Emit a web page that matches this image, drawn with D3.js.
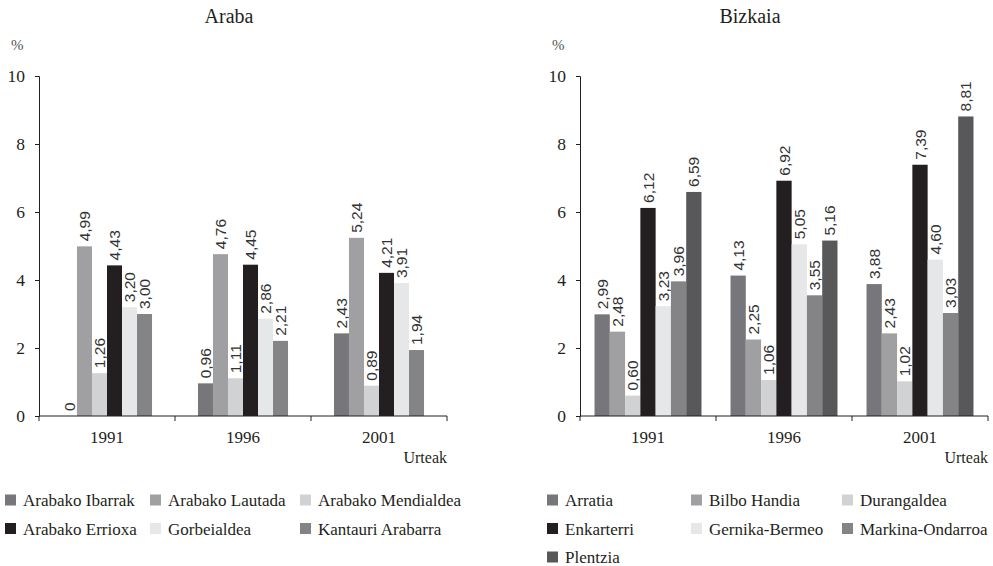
<!DOCTYPE html>
<html>
<head>
<meta charset="utf-8">
<script src="https://cdnjs.cloudflare.com/ajax/libs/d3/7.8.5/d3.min.js"></script>
<style>
  body { margin: 0; background: #fff; }
</style>
</head>
<body>
<svg id="chart" width="993" height="566"></svg>
<script>
const years = ['1991', '1996', '2001'];
const yTicks = [0, 2, 4, 6, 8, 10];

const arabaSeries = ['Arabako Ibarrak', 'Arabako Lautada', 'Arabako Mendialdea', 'Arabako Errioxa', 'Gorbeialdea', 'Kantauri Arabarra'];
const arabaValues = [
    [0, 0.96, 2.43],
    [4.99, 4.76, 5.24],
    [1.26, 1.11, 0.89],
    [4.43, 4.45, 4.21],
    [3.20, 2.86, 3.91],
    [3.00, 2.21, 1.94]
];
const arabaColors = ['#77777b', '#a0a0a3', '#d1d2d4', '#231f20', '#e6e7e8', '#848487'];

const bizkaiaSeries = ['Arratia', 'Bilbo Handia', 'Durangaldea', 'Enkarterri', 'Gernika-Bermeo', 'Markina-Ondarroa', 'Plentzia'];
const bizkaiaValues = [
    [2.99, 4.13, 3.88],
    [2.48, 2.25, 2.43],
    [0.60, 1.06, 1.02],
    [6.12, 6.92, 7.39],
    [3.23, 5.05, 4.60],
    [3.96, 3.55, 3.03],
    [6.59, 5.16, 8.81]
];
const bizkaiaColors = ['#77777b', '#a0a0a3', '#d1d2d4', '#231f20', '#e6e7e8', '#848487', '#58585b'];

const SERIF = '"Liberation Serif", "DejaVu Serif", serif';
const SANS = '"Liberation Sans", "DejaVu Sans", sans-serif';
const INK = '#231f20';

const svg = d3.select('#chart');

function fmt(v) {
    return v === 0 ? '0' : v.toFixed(2).replace('.', ',');
}

function drawChart(opts) {
    const { title, series, values, colors, left, titleX, innerPad, legendX, legendCols } = opts;
    const top = 76, height = 340, width = 408;

    const g = svg.append('g').attr('transform', `translate(${left}, ${top})`);

    const x = d3.scaleBand().domain(years).range([0, width]);
    const xs = d3.scaleBand().domain(series).range([0, x.bandwidth()]).paddingOuter(innerPad);
    const y = d3.scaleLinear().domain([0, 10]).range([height, 0]);

    // title and unit
    svg.append('text')
        .attr('x', titleX).attr('y', 23)
        .attr('text-anchor', 'middle')
        .style('font-family', SERIF)
        .style('font-size', '20px')
        .style('fill', INK)
        .text(title);

    svg.append('text')
        .attr('x', left - 28).attr('y', 50)
        .style('font-family', SERIF)
        .style('font-size', '15px')
        .style('fill', '#555')
        .text('%');

    // bars
    series.forEach((s, si) => {
        const grp = g.append('g');
        years.forEach((yr, yi) => {
            const v = values[si][yi];
            const bx = x(yr) + xs(s);
            grp.append('rect')
                .attr('x', bx)
                .attr('y', y(v))
                .attr('width', xs.bandwidth())
                .attr('height', height - y(v))
                .attr('fill', colors[si]);
            grp.append('text')
                .attr('transform', `translate(${bx + xs.bandwidth() / 2 + 5.5}, ${y(v) - 5}) rotate(-90)`)
                .style('font-family', SANS)
                .style('font-size', '15.5px')
                .style('fill', '#333')
                .text(fmt(v));
        });
    });

    // y axis
    const yAxis = g.append('g')
        .call(d3.axisLeft(y).tickValues(yTicks).tickSize(4).tickPadding(10).tickFormat(d3.format('d')));
    yAxis.select('.domain').attr('stroke', INK);
    yAxis.selectAll('.tick line').attr('stroke', INK);
    yAxis.selectAll('text')
        .style('font-size', '17.5px')
        .style('font-family', SERIF)
        .attr('fill', INK);

    // x axis with ticks at category boundaries
    const xAxisG = g.append('g').attr('transform', `translate(0, ${height})`);
    xAxisG.append('line')
        .attr('x1', 0).attr('x2', width)
        .attr('stroke', INK);
    const bounds = years.map(yr => x(yr)).concat([width]);
    xAxisG.selectAll('.bt')
        .data(bounds)
        .enter().append('line')
        .attr('x1', d => d).attr('x2', d => d)
        .attr('y1', 0).attr('y2', 5)
        .attr('stroke', INK);
    xAxisG.selectAll('.yl')
        .data(years)
        .enter().append('text')
        .attr('x', d => x(d) + x.bandwidth() / 2)
        .attr('y', 27)
        .attr('text-anchor', 'middle')
        .style('font-family', SERIF)
        .style('font-size', '17px')
        .style('fill', INK)
        .text(d => d);
    xAxisG.append('text')
        .attr('x', width).attr('y', 47)
        .attr('text-anchor', 'end')
        .style('font-family', SERIF)
        .style('font-size', '16px')
        .style('fill', INK)
        .text('Urteak');

    // legend
    series.forEach((s, si) => {
        const col = si % 3, row = Math.floor(si / 3);
        const lx = legendX + legendCols[col];
        const ly = 500 + row * 28.5;
        svg.append('rect')
            .attr('x', lx).attr('y', ly - 5.5)
            .attr('width', 11).attr('height', 11)
            .attr('fill', colors[si]);
        svg.append('text')
            .attr('x', lx + 18).attr('y', ly + 6)
            .style('font-family', SERIF)
            .style('font-size', '17px')
            .style('fill', INK)
            .text(s);
    });
}

drawChart({
    title: 'Araba',
    series: arabaSeries,
    values: arabaValues,
    colors: arabaColors,
    left: 39,
    titleX: 229,
    innerPad: 1.53,
    legendX: 5,
    legendCols: [0, 145, 295]
});

drawChart({
    title: 'Bizkaia',
    series: bizkaiaSeries,
    values: bizkaiaValues,
    colors: bizkaiaColors,
    left: 580,
    titleX: 750,
    innerPad: 0.95,
    legendX: 547,
    legendCols: [0, 144, 295]
});
</script>
</body>
</html>
